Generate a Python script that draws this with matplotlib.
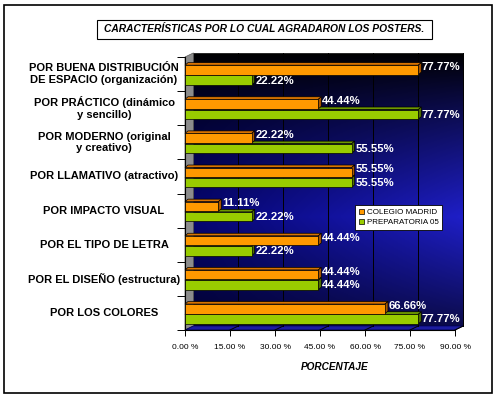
import numpy as np
import matplotlib
matplotlib.use("Agg")
import matplotlib.pyplot as plt
from matplotlib.patches import Polygon, Rectangle
from matplotlib.transforms import blended_transform_factory

plt.rcParams['font.family'] = ['Liberation Sans', 'DejaVu Sans']

# data (top to bottom)
categorias = ["POR BUENA DISTRIBUCIÓN\nDE ESPACIO (organización)",
              "POR PRÁCTICO (dinámico\ny sencillo)",
              "POR MODERNO (original\ny creativo)",
              "POR LLAMATIVO (atractivo)",
              "POR IMPACTO VISUAL",
              "POR EL TIPO DE LETRA",
              "POR EL DISEÑO (estructura)",
              "POR LOS COLORES"]
colegio_madrid = [77.77, 44.44, 22.22, 55.55, 11.11, 44.44, 44.44, 66.66]
preparatoria_05 = [22.22, 77.77, 55.55, 55.55, 22.22, 22.22, 44.44, 77.77]
series_names = ["COLEGIO MADRID", "PREPARATORIA 05"]
xticks = [0, 15, 30, 45, 60, 75, 90]

W, H = 500, 398
fig = plt.figure(figsize=(W / 100, H / 100), dpi=100)
fig.patch.set_facecolor('white')

# outer frame and title box
fig.add_artist(Rectangle((4 / W, 1 - 393 / H), 488 / W, 388 / H, transform=fig.transFigure,
                         fill=False, edgecolor='black', lw=1.2))
fig.add_artist(Rectangle((97 / W, 1 - 39 / H), 335 / W, 19 / H, transform=fig.transFigure,
                         fill=False, edgecolor='black', lw=0.8))
fig.text(264 / W, 1 - 29.5 / H, "CARACTERÍSTICAS POR LO CUAL AGRADARON LOS POSTERS.",
         ha='center', va='center', fontsize=7.4, fontweight='bold', style='italic')

ax = fig.add_axes([185 / W, 1 - 330 / H, 270 / W, 273 / H])
ax.set_facecolor('none')
n = len(categorias)
ymin, ymax = -0.5, n - 0.5

# depth of the walls and bars (data units)
DX, DY = 2.8, 0.12
bdx, bdy = 1.0, 0.075

# back wall gradient
yy, xx = np.mgrid[0:1:200j, 0:1:200j]
vert = np.clip(1 - np.abs(yy - 0.6) / 0.6, 0, 1) ** 0.9
left_c = np.array([0.02, 0.02, 0.45])
right_c = np.array([0.12, 0.12, 0.78])
img = vert[..., None] * (left_c + (right_c - left_c) * xx[..., None])
ax.imshow(img, extent=[DX, 90 + DX, ymax - DY, ymin - DY], aspect='auto',
          zorder=0, clip_on=False, interpolation='bilinear')
ax.add_patch(Polygon([(DX, ymin - DY), (90 + DX, ymin - DY), (90 + DX, ymax - DY), (DX, ymax - DY)],
                     closed=True, fill=False, edgecolor='#333333', lw=0.6, zorder=1, clip_on=False))
# left wall
ax.add_patch(Polygon([(0, ymin), (DX, ymin - DY), (DX, ymax - DY), (0, ymax)],
                     closed=True, facecolor='#8c8c8c', edgecolor='#555555', lw=0.5, zorder=1, clip_on=False))
# floor
ax.add_patch(Polygon([(0, ymax), (90, ymax), (90 + DX, ymax - DY), (DX, ymax - DY)],
                     closed=True, facecolor='#1c1ca0', edgecolor='#000050', lw=0.6, zorder=1, clip_on=False))
# gridlines
for t in xticks[1:]:
    ax.plot([t + DX, t + DX], [ymin - DY, ymax - DY], color='black', lw=0.7, zorder=1.5, clip_on=False)
    ax.plot([t, t + DX], [ymax, ymax - DY], color='black', lw=0.7, zorder=1.5, clip_on=False)

# bars
bh = 0.28
offs = [-0.12, 0.18]
lab_shift = [-0.09, 0.01]
face = ['#FF9900', '#99CC00']
top = ['#D97300', '#6F9900']
side = ['#A85500', '#4F7000']
y = np.arange(n)
for k, vals in reversed(list(enumerate([colegio_madrid, preparatoria_05]))):
    yc = y + offs[k]
    z = 3 + (1 - k)
    for v, c in zip(vals, yc):
        t0 = c - bh / 2
        ax.add_patch(Polygon([(0, t0), (v, t0), (v + bdx, t0 - bdy), (bdx, t0 - bdy)], closed=True,
                             facecolor=top[k], edgecolor='black', lw=0.5, zorder=z, clip_on=False))
        ax.add_patch(Polygon([(v, t0), (v + bdx, t0 - bdy), (v + bdx, t0 + bh - bdy), (v, t0 + bh)],
                             closed=True, facecolor=side[k], edgecolor='black', lw=0.5, zorder=z,
                             clip_on=False))
        ax.text(v + bdx + 0.2, c + lab_shift[k], f"{v:.2f}%", color='white', fontsize=8.2,
                fontweight='bold', ha='left', va='center', zorder=6, clip_on=False)
    ax.barh(yc, vals, height=bh, color=face[k], edgecolor='black', lw=0.5, zorder=z + 0.5)

ax.set_xlim(0, 90)
ax.set_ylim(ymax, ymin)
ax.set_autoscale_on(False)

for s in ['top', 'right']:
    ax.spines[s].set_visible(False)
ax.spines['left'].set_linewidth(0.8)
ax.spines['bottom'].set_linewidth(0.8)
ax.spines['left'].set_zorder(2)
ax.spines['bottom'].set_zorder(2)

ax.set_xticks(xticks)
ax.set_xticklabels([f"{t:.2f} %" for t in xticks], fontsize=6)
ax.tick_params(axis='x', length=4, width=0.7, pad=6)
ax.set_yticks(np.arange(ymin, ymax + 0.5, 1.0))
ax.set_yticklabels([])
ax.tick_params(axis='y', length=6, width=0.7)

trans = blended_transform_factory(fig.transFigure, ax.transData)
for i, lab in enumerate(categorias):
    ax.text(104 / W, i, lab, transform=trans, ha='center', va='center', fontsize=8,
            fontweight='bold', linespacing=1.2)

fig.text(335 / W, 1 - 367 / H, "PORCENTAJE", ha='center', va='center', fontsize=7.2,
         fontweight='bold', style='italic')

handles = [Rectangle((0, 0), 1, 1, facecolor=face[0], edgecolor='black', lw=0.5),
           Rectangle((0, 0), 1, 1, facecolor=face[1], edgecolor='black', lw=0.5)]
leg = fig.legend(handles, series_names, loc='upper left',
                 bbox_to_anchor=(355 / W, 1 - 205 / H), fontsize=5.8, frameon=True, fancybox=False,
                 handlelength=0.7, handleheight=0.7, handletextpad=0.3, borderpad=0.45,
                 labelspacing=0.3, borderaxespad=0)
leg.get_frame().set_edgecolor('black')
leg.get_frame().set_linewidth(0.6)
leg.get_frame().set_alpha(1)
leg.set_zorder(10)

fig.savefig("out.png", dpi=100)
